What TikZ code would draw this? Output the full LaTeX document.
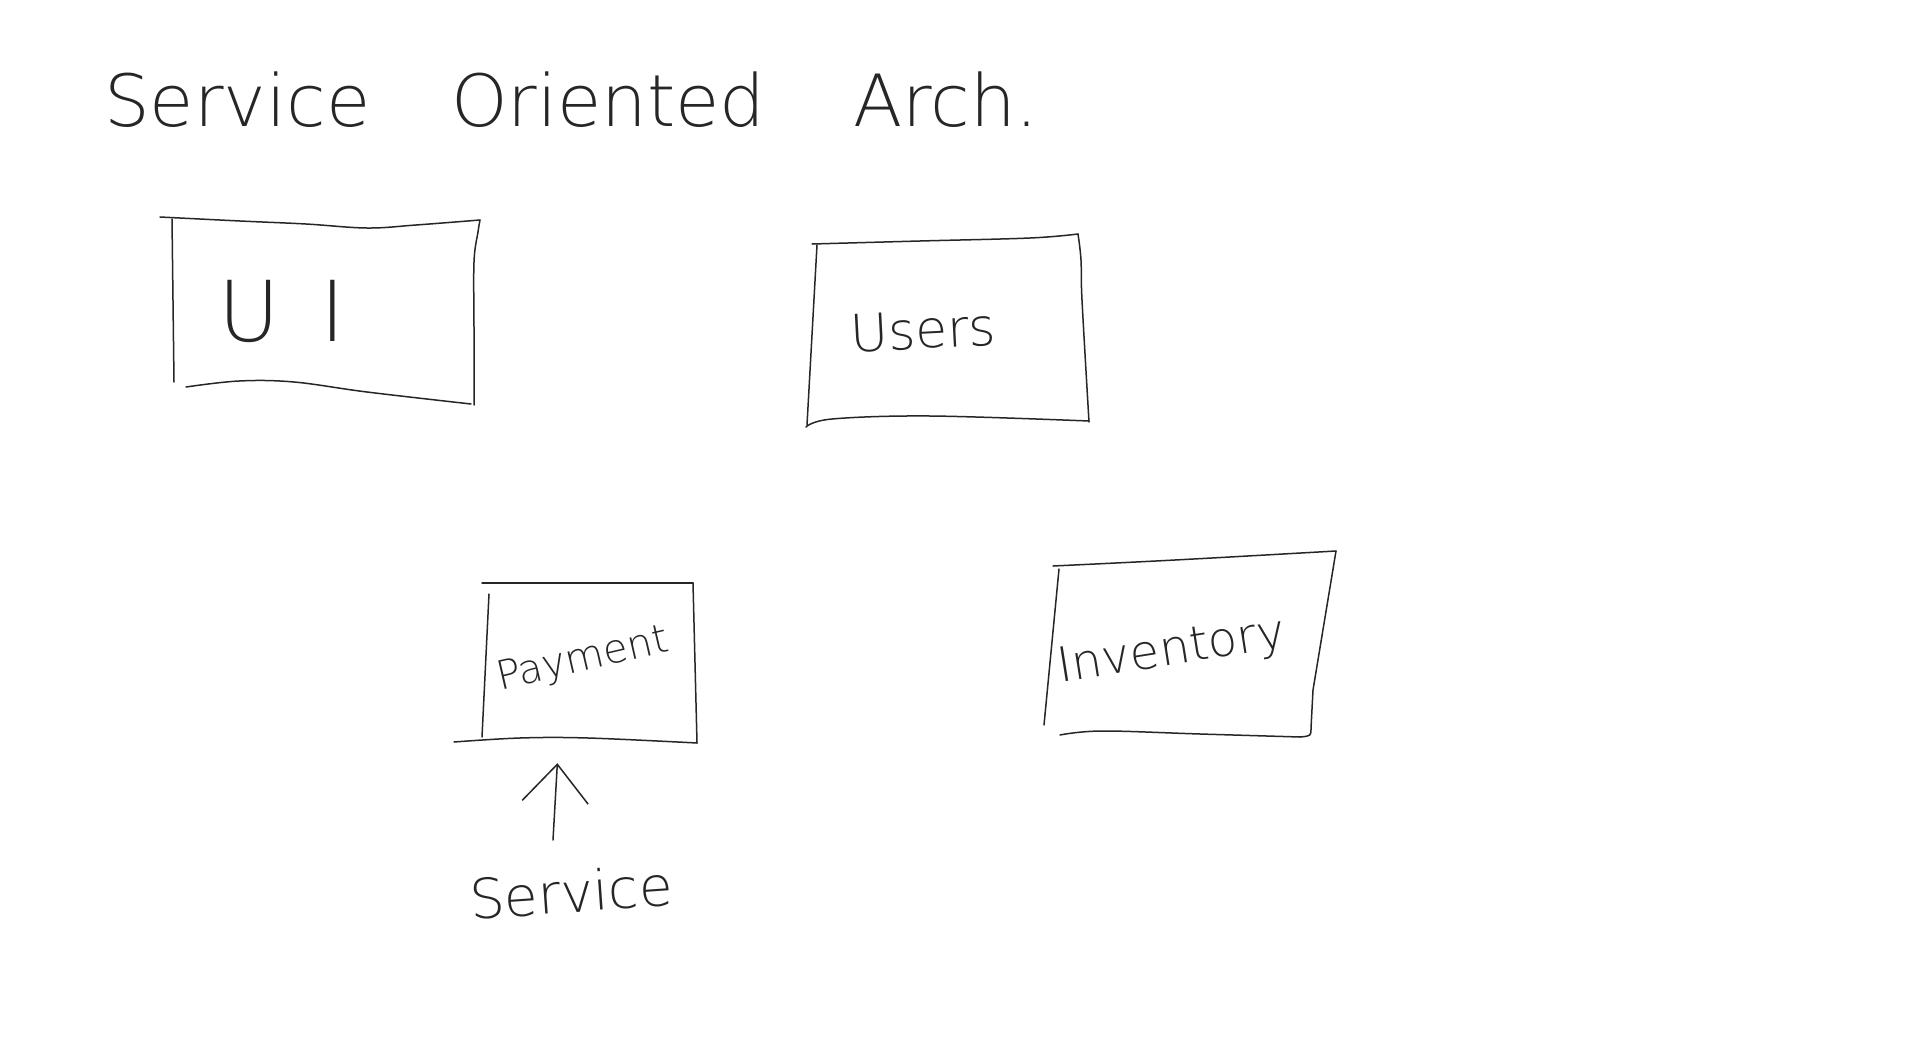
\documentclass[tikz,border=0pt]{standalone}
\usepackage{fontspec}
\setmainfont{DejaVu Sans ExtraLight}
\usetikzlibrary{arrows.meta}
\tikzset{
  pen/.style={draw=black!85, line width=1.5pt, line join=round, line cap=round},
  lbl/.style={inner sep=0pt, text=black!85},
  boxarea/.style={inner sep=0pt, draw=none},
  arr/.style={pen, -{Straight Barb[length=38pt,width=66pt,line width=1.5pt]}}
}
\begin{document}
\begin{tikzpicture}[x=1pt,y=-1pt]
\useasboundingbox[fill=white] (0,0) rectangle (1920,1057);

% title
\node[lbl, anchor=base west, font=\fontsize{72}{80}\selectfont] (t1) at (104,126) {Service};
\node[lbl, anchor=base west, font=\fontsize{72}{80}\selectfont] (t2) at (451,126) {Oriented};
\node[lbl, anchor=base west, font=\fontsize{72}{80}\selectfont] (t3) at (853,126) {Arch.};

% UI box
\draw[pen] plot[smooth, tension=0.6] coordinates {(160,217) (240,221) (306,224) (367,228) (416,225) (480,220)};
\draw[pen] plot[smooth, tension=0.6] coordinates {(480,220) (478,232) (474,262) (474,330) (474,405)};
\draw[pen] plot[smooth, tension=0.6] coordinates {(186,387) (239,381) (294,382) (367,392) (471,404)};
\draw[pen] (172,219) -- (174,382);
\node[boxarea, minimum width=305pt, minimum height=180pt] (ui) at (325,312) {};
\node[lbl, font=\fontsize{84}{90}\selectfont] (uit) at (282,311) {U\hspace{40pt}I};

% Users box
\draw[pen] plot[smooth, tension=0.6] coordinates {(812,244) (920,241) (1030,238) (1078,234)};
\draw[pen] plot[smooth, tension=0.6] coordinates {(1078,234) (1081,260) (1082,300) (1089,422)};
\draw[pen] plot[smooth, tension=0.6] coordinates {(806,427) (832,419) (930,416) (1089,421)};
\draw[pen] (817,245) -- (807,425);
\node[boxarea, minimum width=275pt, minimum height=185pt] (users) at (947,331) {};
\node[lbl, font=\fontsize{52}{60}\selectfont, rotate=3] (userst) at (923,330) {Users};

% Payment box
\draw[pen] (482,583) -- (693,583);
\draw[pen] (693,583) -- (697,743);
\draw[pen] plot[smooth, tension=0.6] coordinates {(454,742) (520,738) (588,738) (697,743)};
\draw[pen] (489,594) -- (482,737);
\node[boxarea, minimum width=215pt, minimum height=160pt] (pay) at (589.5,663) {};
\node[lbl, font=\fontsize{40}{48}\selectfont, rotate=13] (payt) at (583,660) {Payment};

% Inventory box
\draw[pen] plot[smooth, tension=0.6] coordinates {(1053,566) (1175,560) (1336,551)};
\draw[pen] (1336,551) -- (1313,690) -- (1311,728) .. controls (1311,736) .. (1300,737);
\draw[pen] plot[smooth, tension=0.6] coordinates {(1060,735) (1102,731) (1200,734) (1300,737)};
\draw[pen] (1059,569) -- (1044,725);
\node[boxarea, minimum width=290pt, minimum height=180pt] (inv) at (1190,645) {};
\node[lbl, font=\fontsize{48}{56}\selectfont, rotate=9] (invt) at (1172,652) {Inventory};

% Service label and arrow
\node[lbl, font=\fontsize{55}{62}\selectfont, rotate=4] (svc) at (571,892) {Service};
\coordinate (atail) at (553,840);
\draw[arr, shorten >=20pt] (atail) -- ([xshift=-31pt]pay.south);
\end{tikzpicture}
\end{document}
